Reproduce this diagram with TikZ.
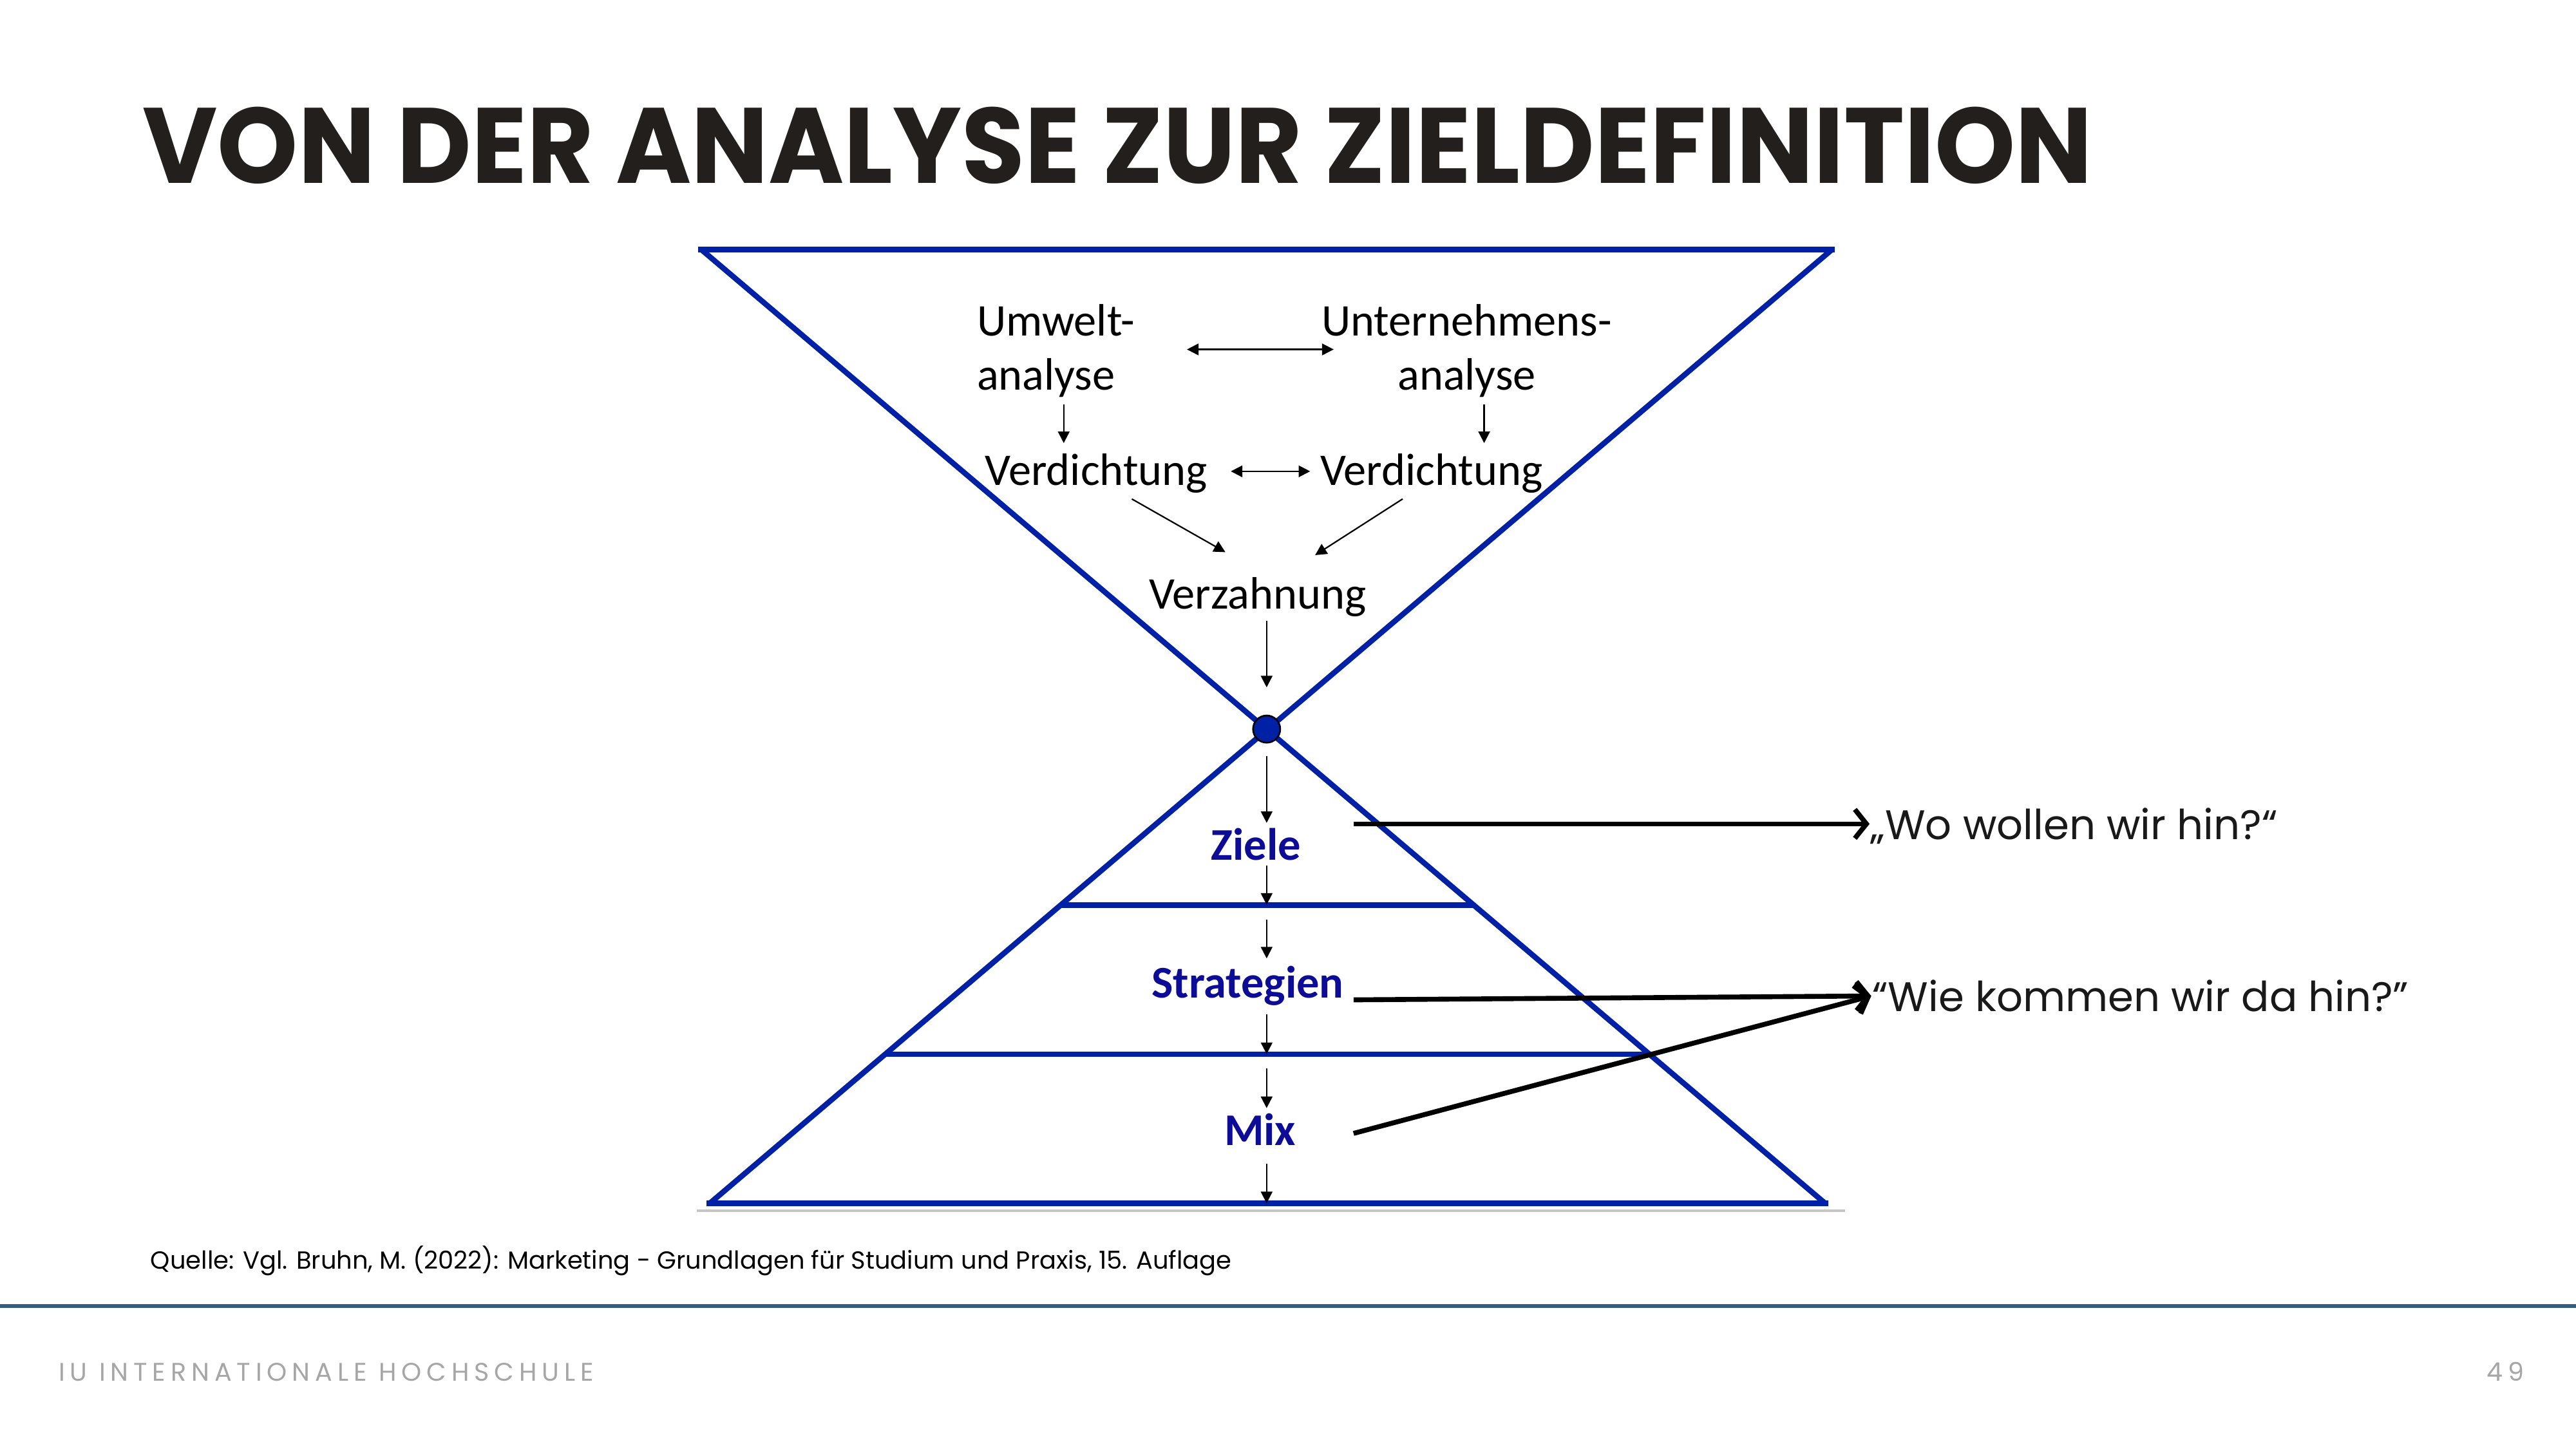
\documentclass[tikz,border=0pt]{standalone}
\usepackage{fontspec}
\usepackage{graphicx}
\usetikzlibrary{arrows.meta}
\newfontfamily\carl{Carlito}
\newfontfamily\popf{Poppins}
\newfontfamily\footf{Poppins}[LetterSpace=20]
\definecolor{triblue}{RGB}{0,32,166}
\definecolor{txtblue}{RGB}{12,12,150}
\definecolor{titlecol}{RGB}{35,31,28}
\definecolor{sepcol}{RGB}{52,94,125}
\definecolor{footgray}{RGB}{166,166,166}
\begin{document}
\begin{tikzpicture}[x=0.01cm,y=-0.01cm,
  lbl/.style={inner sep=0, font=\carl\fontsize{7.85}{9.4}\selectfont},
  lvl/.style={inner sep=0, font=\carl\bfseries\fontsize{7.85}{9.4}\selectfont, text=txtblue},
  tri/.style={draw=triblue, line width=0.95pt},
  thinarrow/.style={draw=black, line width=0.25pt, -{Triangle[length=2pt,width=2pt]}},
  dblarrow/.style={draw=black, line width=0.25pt, {Triangle[length=2pt,width=2pt]}-{Triangle[length=2pt,width=2pt]}},
  bigarrow/.style={draw=black, line width=0.85pt, -{Straight Barb[length=2pt,width=5pt]}},
  question/.style={inner sep=0, font=\popf\fontsize{7.15}{8.6}\selectfont, text=black!90},
]
\useasboundingbox[fill=white] (0,0) rectangle (1568,882);

% title
\node[anchor=south west, inner sep=0, text=titlecol] (title) at (86.2,112.6)
  {\resizebox{11.86cm}{0.464cm}{\popf\bfseries VON DER ANALYSE ZUR ZIELDEFINITION}};

% hourglass
\draw[gray!45, line width=0.4pt] (424,737) -- (1123,737);
\draw[tri] (425,152) -- (1117,152);
\draw[tri] (427,152) -- (1111,732.5);
\draw[tri] (1115,152) -- (432,732.5);
\draw[tri] (645.5,551) -- (897.1,551);
\draw[tri] (538.7,641.8) -- (1004.1,641.8);
\draw[tri] (430,732.5) -- (1113,732.5);
\node[circle, fill=triblue, draw=black, line width=0.3pt, minimum size=0.165cm, inner sep=0] (hub) at (771,443.8) {};

% texts upper
\node[lbl, anchor=base west] (umw1) at (594,204.5) {Umwelt-};
\node[lbl, anchor=base west] (umw2) at (594,237.2) {analyse};
\node[lbl, anchor=base] (unt1) at (892.8,204.5) {Unternehmens-};
\node[lbl, anchor=base] (unt2) at (892.8,237.2) {analyse};
\node[lbl, anchor=base west] (verdL) at (599,295.5) {Verdichtung};
\node[lbl, anchor=base west] (verdR) at (803,295.5) {Verdichtung};
\node[lbl, anchor=base] (verz) at (765.5,370.5) {Verzahnung};

% levels
\node[lvl, anchor=base] (ziele) at (764.6,523.4) {Ziele};
\node[lvl, anchor=base] (strat) at (759.5,607.6) {Strategien};
\node[lvl, anchor=base] (mix) at (767,697.1) {Mix};

% arrow coordinates
\coordinate (a1s) at (722.5,212.7); \coordinate (a1e) at (811.8,212.7);
\coordinate (a2s) at (647.5,246.1); \coordinate (a2e) at (647.5,269.7);
\coordinate (a3s) at (903.4,246.1); \coordinate (a3e) at (903.4,269.7);
\coordinate (a4s) at (749.2,286.9); \coordinate (a4e) at (797.5,286.9);
\coordinate (a5s) at (688.9,303.7); \coordinate (a5e) at (745.9,336.1);
\coordinate (a6s) at (853.8,303.7); \coordinate (a6e) at (800.5,337.9);
\coordinate (a7s) at (771,377.8);   \coordinate (a7e) at (771,418.4);
\coordinate (a8s) at (771,460.4);   \coordinate (a8e) at (771,500.9);
\coordinate (a9s) at (771,526.7);   \coordinate (a9e) at (771,550.7);
\coordinate (a10s) at (771,559.6);  \coordinate (a10e) at (771,583.4);
\coordinate (a11s) at (771,617.4);  \coordinate (a11e) at (771,641.6);
\coordinate (a12s) at (771,650.5);  \coordinate (a12e) at (771,674.5);
\coordinate (a13s) at (771,708.2);  \coordinate (a13e) at (771,732.4);

\draw[dblarrow] (a1s) -- (a1e);
\draw[thinarrow] (a2s) -- (a2e);
\draw[thinarrow] (a3s) -- (a3e);
\draw[dblarrow] (a4s) -- (a4e);
\draw[thinarrow] (a5s) -- (a5e);
\draw[thinarrow] (a6s) -- (a6e);
\draw[thinarrow] (a7s) -- (a7e);
\draw[thinarrow] (a8s) -- (a8e);
\draw[thinarrow] (a9s) -- (a9e);
\draw[thinarrow] (a10s) -- (a10e);
\draw[thinarrow] (a11s) -- (a11e);
\draw[thinarrow] (a12s) -- (a12e);
\draw[thinarrow] (a13s) -- (a13e);

% questions
\node[question, anchor=base west] (wo) at (1138,510.9) {„Wo wollen wir hin?“};
\node[question, anchor=base west] (wie) at (1139,615.7) {“Wie kommen wir da hin?”};
\coordinate (zs) at (823.9,501.5);
\coordinate (ss) at (823.9,608.6);
\coordinate (ms) at (823.9,689.9);
\draw[bigarrow] (zs) -- (zs -| wo.west);
\draw[bigarrow] (ss) -- (wie.west);
\draw[bigarrow] (ms) -- (wie.west);

% source, separator, footer
\node[anchor=base west, inner sep=0, font=\popf\fontsize{4.28}{5}\selectfont] (src) at (91,772.5)
  {Quelle: Vgl. Bruhn, M. (2022): Marketing - Grundlagen für Studium und Praxis, 15. Auflage};
\coordinate (sepL) at (0,795); \coordinate (sepR) at (1568,795);
\draw[sepcol, line width=0.63pt] (sepL) -- (sepR);
\node[anchor=base west, inner sep=0, text=footgray, font=\footf\fontsize{4.42}{5}\selectfont] (foot) at (35,840.6) {IU INTERNATIONALE HOCHSCHULE};
\node[anchor=base east, inner sep=0, text=footgray, font=\footf\fontsize{4.42}{5}\selectfont] (page) at (1537,840.6) {49};
\end{tikzpicture}
\end{document}
